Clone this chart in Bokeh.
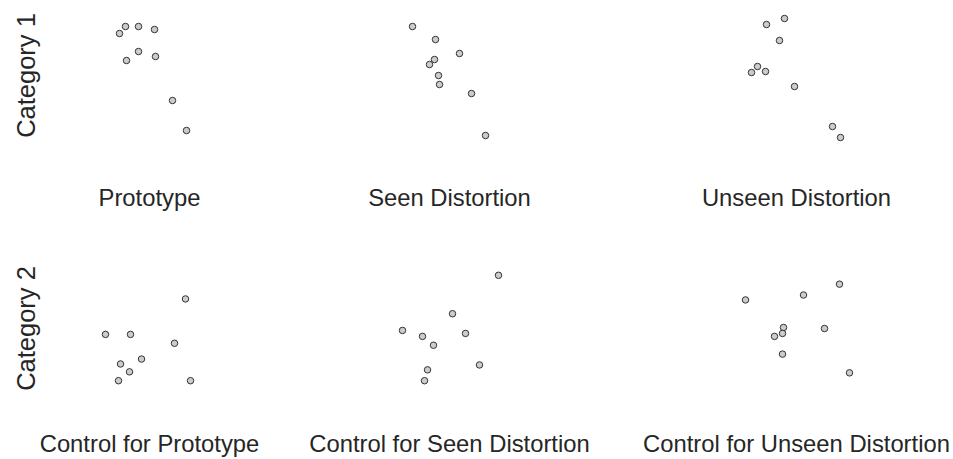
from bokeh.plotting import figure
from bokeh.layouts import column, row
from bokeh.models import Range1d, FixedTicker
from bokeh.embed import file_html
from bokeh.resources import INLINE

# ---- data (arbitrary 2-D embedding units) ----
row_labels = ["Category 1", "Category 2"]
panel_labels = ["Prototype", "Seen Distortion", "Unseen Distortion",
                "Control for Prototype", "Control for Seen Distortion",
                "Control for Unseen Distortion"]

proto_x = [-0.30, -0.24, -0.11, 0.05, -0.11, 0.06, -0.23, 0.23, 0.37]
proto_y = [0.42, 0.49, 0.49, 0.46, 0.24, 0.19, 0.15, -0.25, -0.55]

seen_x = [-0.37, -0.14, 0.10, -0.15, -0.20, -0.11, -0.10, 0.22, 0.36]
seen_y = [0.49, 0.36, 0.22, 0.16, 0.11, 0.00, -0.09, -0.18, -0.60]

unseen_x = [-0.12, -0.30, -0.17, -0.39, -0.45, -0.31, -0.02, 0.36, 0.44]
unseen_y = [0.57, 0.51, 0.35, 0.09, 0.03, 0.04, -0.11, -0.51, -0.62]

ctrl_proto_x = [0.36, -0.44, -0.19, 0.25, -0.08, -0.29, -0.20, -0.31, 0.41]
ctrl_proto_y = [0.30, -0.06, -0.06, -0.15, -0.31, -0.36, -0.44, -0.53, -0.53]

ctrl_seen_x = [0.49, 0.03, -0.47, -0.27, 0.16, -0.16, 0.30, -0.22, -0.25]
ctrl_seen_y = [0.54, 0.15, -0.02, -0.08, -0.05, -0.17, -0.37, -0.42, -0.53]

ctrl_unseen_x = [0.43, 0.07, -0.51, -0.13, 0.28, -0.14, -0.22, -0.14, 0.53]
ctrl_unseen_y = [0.45, 0.34, 0.29, 0.01, 0.00, -0.05, -0.08, -0.26, -0.45]

series = [(proto_x, proto_y), (seen_x, seen_y), (unseen_x, unseen_y),
          (ctrl_proto_x, ctrl_proto_y), (ctrl_seen_x, ctrl_seen_y),
          (ctrl_unseen_x, ctrl_unseen_y)]

# ---- layout geometry ----
FONT = "Liberation Sans"
TXT = "#262626"
col_w = [299, 323, 331]
col_left = [49, 50, 74]
col_right = [50, 73, 57]
row_h = [262, 197]
row_top = [8, 0]
row_bottom = [120, 63]
label_standoff = [41, 35]


def panel(i):
    r, c = divmod(i, 3)
    p = figure(width=col_w[c], height=row_h[r], output_backend="svg",
               toolbar_location=None,
               x_range=Range1d(-1, 1), y_range=Range1d(-0.67, 0.67),
               y_axis_location="left" if c == 0 else None,
               min_border_left=col_left[c], min_border_right=col_right[c],
               min_border_top=row_top[r], min_border_bottom=row_bottom[r])
    p.outline_line_color = None
    p.grid.visible = False
    p.background_fill_color = "white"
    axes = [p.xaxis[0]] + ([p.yaxis[0]] if c == 0 else [])
    for ax in axes:
        ax.ticker = FixedTicker(ticks=[])
        ax.axis_line_color = None
        ax.major_tick_line_color = None
        ax.minor_tick_line_color = None
        ax.major_tick_out = 0
        ax.major_tick_in = 0
        ax.minor_tick_out = 0
        ax.minor_tick_in = 0
        ax.major_label_standoff = 0
        ax.axis_label_text_font = FONT
        ax.axis_label_text_font_style = "normal"
        ax.axis_label_text_color = TXT
    p.xaxis.axis_label = panel_labels[i]
    p.xaxis.axis_label_text_font_size = "23.8px"
    p.xaxis.axis_label_standoff = label_standoff[r]
    if c == 0:
        p.yaxis.axis_label = row_labels[r]
        p.yaxis.axis_label_text_font_size = "25.5px"
        p.yaxis.axis_label_standoff = 10
    x, y = series[i]
    p.scatter(x, y, size=6.5, fill_color="#cccccc", line_color="#333333",
              line_width=1)
    return p


panels = [panel(i) for i in range(6)]
layout = column(row(*panels[:3], spacing=0), row(*panels[3:], spacing=0),
                spacing=0)

open("out.html", "w").write(file_html(layout, INLINE))
